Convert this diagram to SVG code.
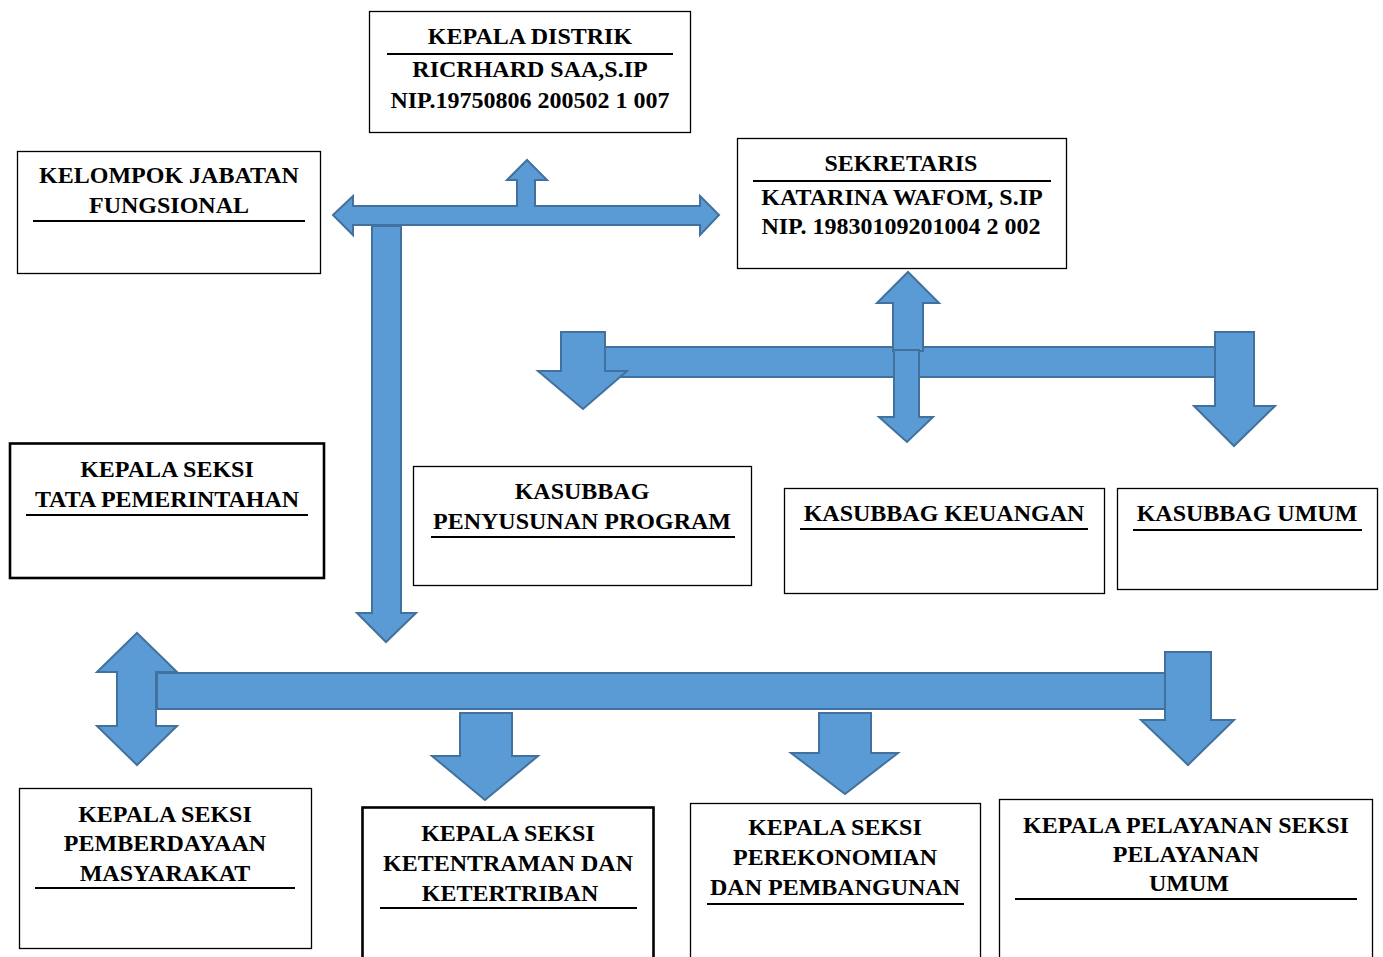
<svg xmlns="http://www.w3.org/2000/svg" width="1383" height="957" viewBox="0 0 1383 957">
<style>
.box{fill:#fff;stroke:#000;stroke-width:1.3}
.thick{stroke-width:2.6}
.ul{stroke:#000;stroke-width:2}
text{font-family:"Liberation Serif","Times New Roman",serif;font-weight:bold;font-size:24px;fill:#000;text-anchor:middle}
.arr{fill:#5B9BD5;stroke:#41719C;stroke-width:2;stroke-linejoin:miter}
</style>
<rect width="1383" height="957" fill="#fff"/>
<g id="connectors">
<polygon class="arr" points="333,215 353,196 353,206 517,206 517,180 507,180 527,160 547,180 535,180 535,206 700,206 700,196 719,215 700,235 700,225 353,225 353,235"/>
<polygon class="arr" points="372,226 401,226 401,613 416,613 386,642 357,613 372,613"/>
<rect class="arr" x="590" y="347" width="640" height="30"/>
<polygon class="arr" points="908,272 939,303 923,303 923,351 893,351 893,303 877,303"/>
<polygon class="arr" points="894,350 919,350 919,417 933,417 907,442 879,417 894,417"/>
<polygon class="arr" points="561,332 605,332 605,371 627,371 583,409 538,371 561,371"/>
<polygon class="arr" points="1215,332 1254,332 1254,406 1275,406 1234,446 1194,406 1215,406"/>
<polygon class="arr" points="137,633 177,672 156,672 156,726 177,726 137,765 97,726 117,726 117,672 97,672"/>
<rect class="arr" x="157" y="673" width="1020" height="36"/>
<polygon class="arr" points="460,713 512,713 512,756 538,756 485,800 432,756 460,756"/>
<polygon class="arr" points="819,713 871,713 871,753 898,753 845,794 791,753 819,753"/>
<polygon class="arr" points="1165,652 1211,652 1211,720 1234,720 1188,765 1141,720 1165,720"/>
</g>
<g id="kepala-distrik">
<rect class="box" x="369.5" y="11.5" width="321" height="121"/>
<text x="530" y="44">KEPALA DISTRIK</text>
<line class="ul" x1="387" y1="54" x2="673" y2="54"/>
<text x="530" y="77">RICRHARD SAA,S.IP</text>
<text x="530" y="108">NIP.19750806 200502 1 007</text>
</g>
<g id="kelompok-jabatan">
<rect class="box" x="17.5" y="151.5" width="303" height="122"/>
<text x="169" y="183">KELOMPOK JABATAN</text>
<text x="169" y="213">FUNGSIONAL</text>
<line class="ul" x1="33" y1="221" x2="305" y2="221"/>
</g>
<g id="sekretaris">
<rect class="box" x="737.5" y="138.5" width="329" height="130"/>
<text x="901" y="171">SEKRETARIS</text>
<line class="ul" x1="753" y1="181" x2="1051" y2="181"/>
<text x="902" y="205">KATARINA WAFOM, S.IP</text>
<text x="901" y="234">NIP. 19830109201004 2 002</text>
</g>
<g id="seksi-tata-pemerintahan">
<rect class="box thick" x="10" y="443.5" width="314" height="134.5"/>
<text x="167" y="477">KEPALA SEKSI</text>
<text x="167" y="507">TATA PEMERINTAHAN</text>
<line class="ul" x1="26" y1="515" x2="308" y2="515"/>
</g>
<g id="kasubbag-penyusunan-program">
<rect class="box" x="413.5" y="466.5" width="338" height="119"/>
<text x="582" y="499">KASUBBAG</text>
<text x="582" y="529">PENYUSUNAN PROGRAM</text>
<line class="ul" x1="431" y1="537" x2="735" y2="537"/>
</g>
<g id="kasubbag-keuangan">
<rect class="box" x="784.5" y="488.5" width="320" height="105"/>
<text x="944" y="521">KASUBBAG KEUANGAN</text>
<line class="ul" x1="800" y1="529" x2="1088" y2="529"/>
</g>
<g id="kasubbag-umum">
<rect class="box" x="1117.5" y="488.5" width="260" height="101"/>
<text x="1247" y="521">KASUBBAG UMUM</text>
<line class="ul" x1="1133" y1="530" x2="1362" y2="530"/>
</g>
<g id="seksi-pemberdayaan">
<rect class="box" x="19.5" y="788.5" width="292" height="160"/>
<text x="165" y="822">KEPALA SEKSI</text>
<text x="165" y="851">PEMBERDAYAAN</text>
<text x="165" y="881">MASYARAKAT</text>
<line class="ul" x1="35" y1="888" x2="295" y2="888"/>
</g>
<g id="seksi-ketentraman">
<rect class="box thick" x="362.5" y="807.5" width="291" height="170"/>
<text x="508" y="841">KEPALA SEKSI</text>
<text x="508" y="871">KETENTRAMAN DAN</text>
<text x="510" y="901">KETERTRIBAN</text>
<line class="ul" x1="380" y1="908" x2="637" y2="908"/>
</g>
<g id="seksi-perekonomian">
<rect class="box" x="690.5" y="803.5" width="290" height="170"/>
<text x="835" y="835">KEPALA SEKSI</text>
<text x="835" y="865">PEREKONOMIAN</text>
<text x="835" y="895">DAN PEMBANGUNAN</text>
<line class="ul" x1="707" y1="904" x2="964" y2="904"/>
</g>
<g id="seksi-pelayanan-umum">
<rect class="box" x="999.5" y="799.5" width="373" height="175"/>
<text x="1186" y="833">KEPALA PELAYANAN SEKSI</text>
<text x="1186" y="862">PELAYANAN</text>
<text x="1189" y="891">UMUM</text>
<line class="ul" x1="1015" y1="899" x2="1357" y2="899"/>
</g>
</svg>
